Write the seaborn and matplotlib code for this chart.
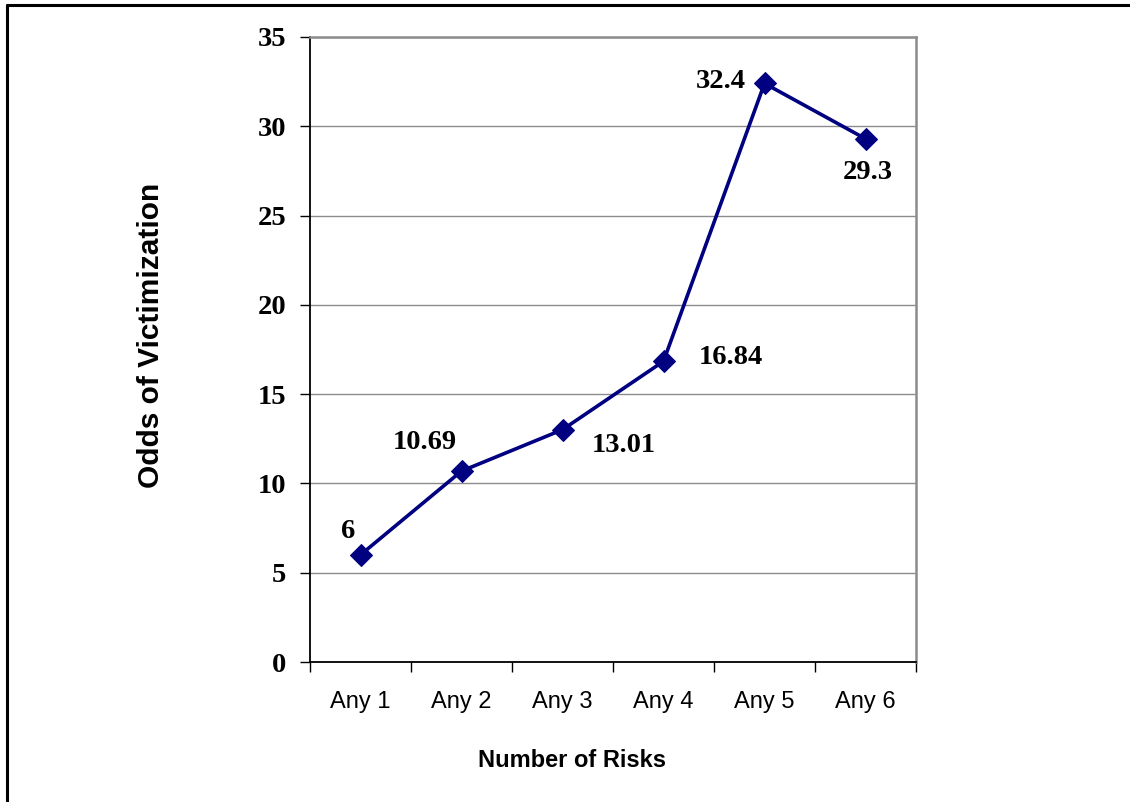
import numpy as np
import pandas as pd
import matplotlib
matplotlib.use("Agg")
import matplotlib.pyplot as plt
from matplotlib.lines import Line2D
from matplotlib.ticker import FixedLocator, NullFormatter
import seaborn as sns

# Odds of victimization by number of risk factors
categories = ["Any 1", "Any 2", "Any 3", "Any 4", "Any 5", "Any 6"]
odds = [6, 10.69, 13.01, 16.84, 32.4, 29.3]
value_labels = ["6", "10.69", "13.01", "16.84", "32.4", "29.3"]
y_ticks = [0, 5, 10, 15, 20, 25, 30, 35]

# label offsets (pixels) relative to each point
label_offsets = [(-12, 23), (-37, 29), (61, -16), (67, 4), (-44, 2), (2, -34)]

df = pd.DataFrame({"risks": categories, "odds": odds})

sns.set_theme(style="white")
plt.rcParams["font.family"] = ["Liberation Serif", "DejaVu Serif"]
plt.rcParams["text.color"] = "black"
plt.rcParams["axes.labelcolor"] = "black"
plt.rcParams["xtick.color"] = "black"
plt.rcParams["ytick.color"] = "black"

fig = plt.figure(figsize=(11.3, 8.02), dpi=100)
ax = fig.add_axes([310 / 1130, 1 - 662 / 802, (916 - 310) / 1130, (662 - 37) / 802])

navy = "#000080"
sns.lineplot(data=df, x="risks", y="odds", ax=ax, color=navy, linewidth=2.6,
             marker="D", markersize=11, markeredgecolor=navy, markerfacecolor=navy,
             sort=False, zorder=3)

ax.set_xlim(-0.5, len(categories) - 0.5)
ax.set_ylim(0, 35)
ax.set_yticks(y_ticks)
ax.set_yticklabels([str(t) for t in y_ticks], fontsize=20.5, fontweight="bold",
                   family=["Liberation Serif"])

# category labels centered, tick marks between categories
ax.set_xticks(range(len(categories)))
ax.set_xticklabels(categories, fontsize=17, family=["Liberation Sans"])
ax.xaxis.set_minor_locator(FixedLocator(np.arange(-0.5, len(categories), 1.0)))
ax.xaxis.set_minor_formatter(NullFormatter())
ax.tick_params(axis="x", which="major", length=0, pad=21)
ax.tick_params(axis="x", which="minor", length=7, width=1, color="black",
               direction="out", bottom=True)
ax.tick_params(axis="y", length=7, width=1, color="black", direction="out",
               left=True, pad=10)

# horizontal gridlines
ax.yaxis.grid(True, color="#8c8c8c", linewidth=1)
ax.xaxis.grid(False)
ax.set_axisbelow(True)

for side in ["left", "bottom"]:
    ax.spines[side].set_color("black")
    ax.spines[side].set_linewidth(1.3)
for side in ["top", "right"]:
    ax.spines[side].set_color("#8c8c8c")
    ax.spines[side].set_linewidth(1.8)
    ax.spines[side].set_visible(True)

ax.set_xlabel("Number of Risks", fontsize=17, fontweight="bold",
              family=["Liberation Sans"])
ax.set_ylabel("Odds of Victimization", fontsize=21.5, fontweight="bold",
              family=["Liberation Sans"])
ax.xaxis.set_label_coords((572 - 310) / (916 - 310), (662 - 749) / (662 - 37))
ax.yaxis.set_label_coords((165 - 310) / (916 - 310), (662 - 335) / (662 - 37))

for i, (val, txt) in enumerate(zip(odds, value_labels)):
    dx, dy = label_offsets[i]
    ax.annotate(txt, (i, val), xytext=(dx, dy), textcoords="offset pixels",
                ha="center", va="center", fontsize=20.5, fontweight="bold",
                family=["Liberation Serif"], color="black")

# outer chart frame
fig.add_artist(Line2D([7 / 1130, 7 / 1130], [0, 1 - 5 / 802],
                      transform=fig.transFigure, color="black", linewidth=2.2))
fig.add_artist(Line2D([7 / 1130, 1], [1 - 5 / 802, 1 - 5 / 802],
                      transform=fig.transFigure, color="black", linewidth=2.2))

fig.savefig("out.png", dpi=100)
